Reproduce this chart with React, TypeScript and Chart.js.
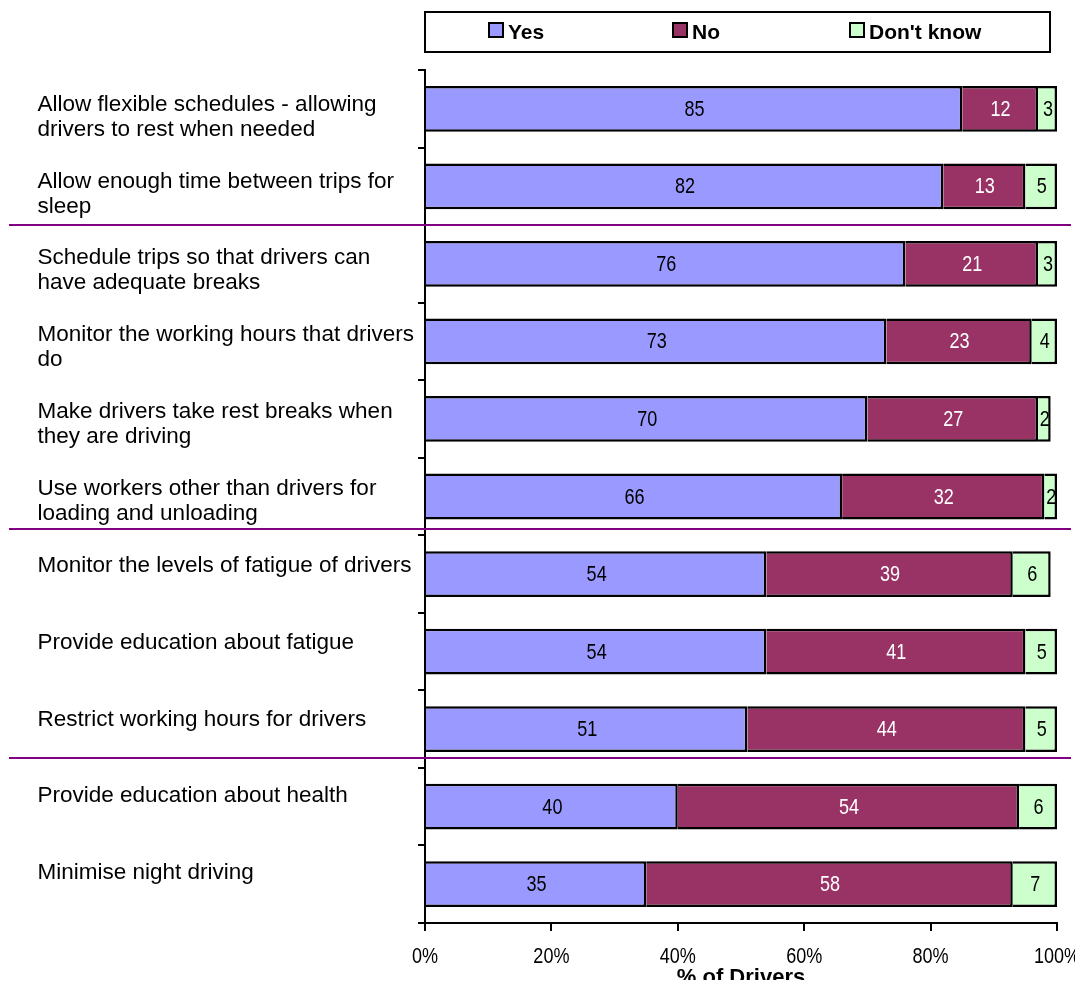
import React, { useEffect, useRef } from "react";
import { Chart, registerables } from "chart.js";

Chart.register(...registerables);

// Survey measures, each wrapped the way it is printed beside its bar
const CATEGORIES: string[][] = [
  ["Allow flexible schedules - allowing", "drivers to rest when needed"],
  ["Allow enough time between trips for", "sleep"],
  ["Schedule trips so that drivers can", "have adequate breaks"],
  ["Monitor the working hours that drivers", "do"],
  ["Make drivers take rest breaks when", "they are driving"],
  ["Use workers other than drivers for", "loading and unloading"],
  ["Monitor the levels of fatigue of drivers"],
  ["Provide education about fatigue"],
  ["Restrict working hours for drivers"],
  ["Provide education about health"],
  ["Minimise night driving"],
];

const YES = [85, 82, 76, 73, 70, 66, 54, 54, 51, 40, 35];
const NO = [12, 13, 21, 23, 27, 32, 39, 41, 44, 54, 58];
const DONT_KNOW = [3, 5, 3, 4, 2, 2, 6, 5, 5, 6, 7];

const SERIES_NAMES = ["Yes", "No", "Don't know"];
const X_TICKS = [0, 20, 40, 60, 80, 100];
const X_TITLE = "% of Drivers";

// Group separators, in category-index units
const GROUP_DIVIDERS = [1.5, 5.42, 8.37];

const COLORS = ["#9999FF", "#993366", "#CCFFCC"];
const VALUE_TEXT = ["#000000", "#FFFFFF", "#000000"];

const SANS = "'Liberation Sans', Arial, Helvetica, sans-serif";

const W = 1067;
const H = 980;

// Condensed look: regular sans squeezed horizontally
function drawNarrow(ctx: CanvasRenderingContext2D, text: string, x: number, y: number, size: number, color: string) {
  ctx.save();
  ctx.translate(x, y);
  ctx.scale(0.82, 1);
  ctx.font = `${size}px ${SANS}`;
  ctx.fillStyle = color;
  ctx.textAlign = "center";
  ctx.textBaseline = "middle";
  ctx.fillText(text, 0, 0);
  ctx.restore();
}

const categoryLabelsPlugin = {
  id: "categoryLabels",
  afterDraw(chart: any) {
    const { ctx } = chart;
    const yScale = chart.scales.y;
    ctx.save();
    ctx.fillStyle = "#000";
    ctx.font = `22.5px ${SANS}`;
    ctx.textAlign = "left";
    ctx.textBaseline = "alphabetic";
    CATEGORIES.forEach((lines, i) => {
      // text rows run on a slightly tighter pitch than the bars
      const baseY = yScale.getPixelForValue(i) + 2 - 0.7 * i;
      lines.forEach((line, k) => {
        ctx.fillText(line, 29.5, baseY + k * 25);
      });
    });
    ctx.restore();
  },
};

const xTickLabelsPlugin = {
  id: "xTickLabels",
  afterDraw(chart: any) {
    const xScale = chart.scales.x;
    const y = xScale.top + 34;
    X_TICKS.forEach((v) => {
      drawNarrow(chart.ctx, `${v}%`, xScale.getPixelForValue(v), y, 22, "#000");
    });
  },
};

const dividerPlugin = {
  id: "groupDividers",
  afterDraw(chart: any) {
    const { ctx } = chart;
    const yScale = chart.scales.y;
    ctx.save();
    ctx.strokeStyle = "#800080";
    ctx.lineWidth = 2;
    GROUP_DIVIDERS.forEach((v) => {
      const y = Math.round(yScale.getPixelForValue(v));
      ctx.beginPath();
      ctx.moveTo(1, y);
      ctx.lineTo(1063, y);
      ctx.stroke();
    });
    ctx.restore();
  },
};

const valueLabelsPlugin = {
  id: "valueLabels",
  afterDatasetsDraw(chart: any) {
    const { ctx } = chart;
    chart.data.datasets.forEach((ds: any, d: number) => {
      const meta = chart.getDatasetMeta(d);
      meta.data.forEach((bar: any, i: number) => {
        const { x, base, y } = bar.getProps(["x", "base", "y"], true);
        drawNarrow(ctx, String(ds.data[i]), (x + base) / 2 + 0.5, y + 1, 22, VALUE_TEXT[d]);
      });
    });
  },
};

const boxedLegendPlugin = {
  id: "boxedLegend",
  afterDraw(chart: any) {
    const { ctx } = chart;
    const left = chart.chartArea.left;
    ctx.save();
    ctx.strokeStyle = "#000";
    ctx.lineWidth = 2;
    ctx.strokeRect(left, 4, 625, 40);
    const swatchX = [64, 248, 425];
    ctx.font = `bold 21px ${SANS}`;
    ctx.textAlign = "left";
    ctx.textBaseline = "alphabetic";
    chart.data.datasets.forEach((ds: any, d: number) => {
      const sx = left + swatchX[d];
      ctx.fillStyle = ds.backgroundColor;
      ctx.fillRect(sx, 15, 14, 14);
      ctx.lineWidth = 2;
      ctx.strokeStyle = "#000";
      ctx.strokeRect(sx, 15, 14, 14);
      ctx.fillStyle = "#000";
      ctx.fillText(ds.label, sx + 19, 30.5);
    });
    ctx.restore();
  },
};

export default function App() {
  const canvasRef = useRef<HTMLCanvasElement>(null);

  useEffect(() => {
    const canvas = canvasRef.current;
    if (!canvas) return;
    const seriesValues = [YES, NO, DONT_KNOW];
    const chart = new Chart(canvas, {
      type: "bar",
      data: {
        labels: CATEGORIES.map((l) => l.join(" ")),
        datasets: SERIES_NAMES.map((name, d) => ({
          label: name,
          data: seriesValues[d],
          backgroundColor: COLORS[d],
          borderColor: "#000",
          borderWidth: 2.5,
          borderSkipped: "start",
          categoryPercentage: 1,
          barPercentage: 0.59,
        })),
      },
      options: {
        indexAxis: "y",
        animation: false,
        responsive: false,
        devicePixelRatio: 1,
        layout: { padding: { top: 62, right: 18, left: 0, bottom: 0 } },
        plugins: {
          legend: { display: false },
          tooltip: { enabled: false },
        },
        scales: {
          x: {
            stacked: true,
            min: 0,
            max: 100,
            afterBuildTicks: (scale: any) => {
              scale.ticks = X_TICKS.map((v) => ({ value: v }));
            },
            ticks: { display: false },
            grid: {
              drawOnChartArea: false,
              drawTicks: true,
              tickLength: 8,
              color: "#000",
              lineWidth: 2,
            },
            border: { color: "#000", width: 2 },
            title: {
              display: true,
              text: X_TITLE,
              color: "#000",
              font: { family: SANS, size: 22, weight: "bold", lineHeight: 1 },
              padding: { top: 0, bottom: -1 },
            },
            afterFit: (scale: any) => {
              scale.height = 65;
              scale.paddingLeft = 0;
              scale.paddingRight = 0;
            },
          },
          y: {
            stacked: true,
            z: 1,
            ticks: { display: false },
            grid: {
              offset: true,
              drawOnChartArea: false,
              drawTicks: true,
              tickLength: 7,
              color: "#000",
              lineWidth: 2,
            },
            border: { color: "#000", width: 2 },
            afterFit: (scale: any) => {
              scale.width = 417;
              scale.paddingTop = 0;
              scale.paddingBottom = 0;
            },
          },
        },
      } as any,
      plugins: [dividerPlugin, categoryLabelsPlugin, valueLabelsPlugin, xTickLabelsPlugin, boxedLegendPlugin],
    });
    return () => chart.destroy();
  }, []);

  return (
    <div style={{ width: W, height: H, marginBottom: -8 }}>
      <canvas ref={canvasRef} width={W} height={H} style={{ display: "block" }} />
    </div>
  );
}
